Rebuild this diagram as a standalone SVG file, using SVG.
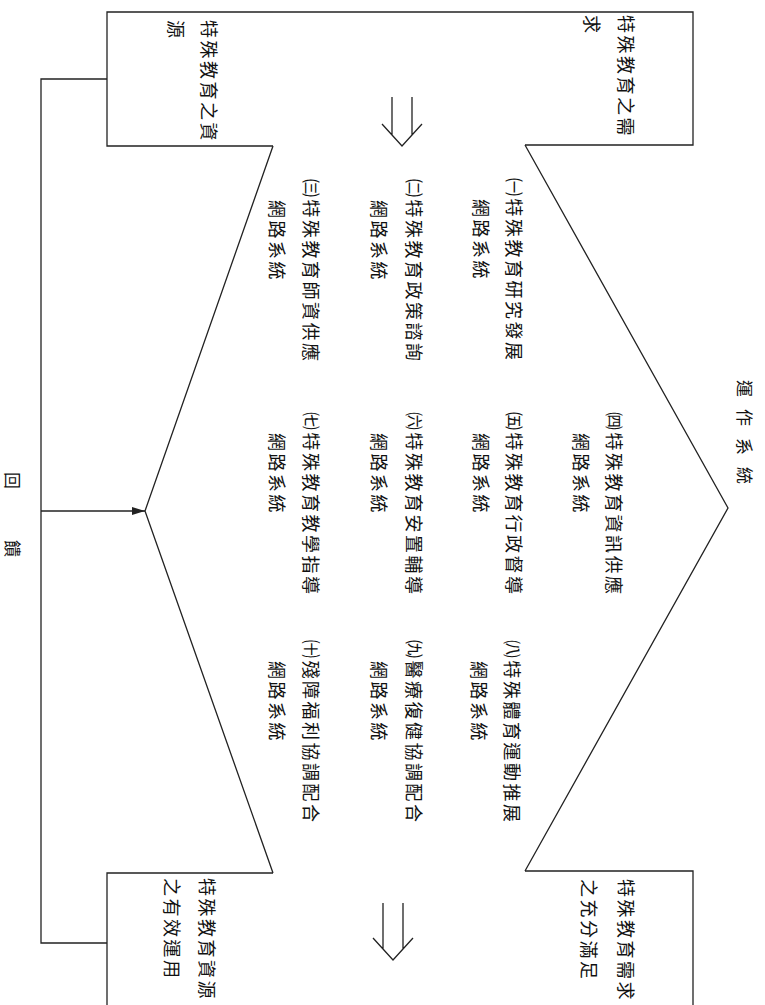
<svg xmlns="http://www.w3.org/2000/svg" width="765" height="1005" viewBox="0 0 765 1005">
<style>
.t{font-family:"Noto Sans CJK TC","Noto Sans CJK SC",sans-serif;font-size:18px;letter-spacing:2.5px;fill:#111;dominant-baseline:central}
.s{font-family:"Noto Sans CJK TC","Noto Sans CJK SC",sans-serif;font-size:17px;fill:#111;dominant-baseline:central}
.ln{fill:none;stroke:#222;stroke-width:1.3;stroke-linejoin:miter}
</style>
<defs>
<marker id="ah" viewBox="0 0 13 8" refX="13" refY="4" markerWidth="13" markerHeight="8" markerUnits="userSpaceOnUse" orient="auto">
<path d="M0,0 L13,4 L0,8 z" fill="#222"/>
</marker>
</defs>
<rect width="765" height="1005" fill="#fff"/>

<g id="node-resources">
<path class="ln" d="M273,146 L107,146 L107,12 L273,12"/>
<text class="t" transform="translate(210,20) rotate(90)">特殊教育之資</text>
<text class="t" transform="translate(177,20) rotate(90)">源</text>
</g>

<g id="node-needs">
<path class="ln" d="M525,12 L693,12 L693,145 L525,145"/>
<text class="t" transform="translate(627,15) rotate(90)">特殊教育之需</text>
<text class="t" transform="translate(593,15) rotate(90)">求</text>
</g>

<g id="node-operating-system">
<path class="ln" d="M273,12 L525,12"/>
<path class="ln" d="M273,146 L145,511 L273,873"/>
<path class="ln" d="M525,145 L728,508 L525,871"/>
<text class="s" transform="translate(745,380) rotate(90)" style="letter-spacing:12px">運作系統</text>
<text class="t" transform="translate(515,178) rotate(90)">㈠特殊教育研究發展</text>
<text class="t" transform="translate(482,199) rotate(90)">網路系統</text>
<text class="t" transform="translate(415,179) rotate(90)">㈡特殊教育政策諮詢</text>
<text class="t" transform="translate(380,200) rotate(90)">網路系統</text>
<text class="t" transform="translate(312,179) rotate(90)">㈢特殊教育師資供應</text>
<text class="t" transform="translate(278,200) rotate(90)">網路系統</text>
<text class="t" transform="translate(615,412) rotate(90)">㈣特殊教育資訊供應</text>
<text class="t" transform="translate(582,433) rotate(90)">網路系統</text>
<text class="t" transform="translate(515,412) rotate(90)">㈤特殊教育行政督導</text>
<text class="t" transform="translate(482,433) rotate(90)">網路系統</text>
<text class="t" transform="translate(415,412) rotate(90)">㈥特殊教育安置輔導</text>
<text class="t" transform="translate(380,433) rotate(90)">網路系統</text>
<text class="t" transform="translate(312,412) rotate(90)">㈦特殊教育教學指導</text>
<text class="t" transform="translate(278,433) rotate(90)">網路系統</text>
<text class="t" transform="translate(513,640) rotate(90)">㈧特殊體育運動推展</text>
<text class="t" transform="translate(480,661) rotate(90)">網路系統</text>
<text class="t" transform="translate(415,640) rotate(90)">㈨醫療復健協調配合</text>
<text class="t" transform="translate(380,661) rotate(90)">網路系統</text>
<text class="t" transform="translate(312,640) rotate(90)">㈩殘障福利協調配合</text>
<text class="t" transform="translate(278,661) rotate(90)">網路系統</text>
</g>

<g id="node-effective-use">
<path class="ln" d="M107,1005 L107,873 L273,873"/>
<text class="t" transform="translate(208,878) rotate(90)">特殊教育資源</text>
<text class="t" transform="translate(173,878) rotate(90)">之有效運用</text>
</g>

<g id="node-needs-met">
<path class="ln" d="M525,871 L693,871 L693,1005"/>
<text class="t" transform="translate(627,879) rotate(90)">特殊教育需求</text>
<text class="t" transform="translate(590,879) rotate(90)">之充分滿足</text>
</g>

<g id="connectors">
<path class="ln" d="M107,79 L41,79 L41,943 L107,943"/>
<path class="ln" d="M41,511 L145,511" marker-end="url(#ah)"/>
<path class="ln" d="M392,97 L392,135 M412,97 L412,135 M382,124 L402,146 L422,124"/>
<path class="ln" d="M383,903 L383,949 M403,903 L403,949 M373,938 L393,960 L413,938"/>
<text class="s" transform="translate(13,472) rotate(90)" style="letter-spacing:51px">回饋</text>
</g>
</svg>
